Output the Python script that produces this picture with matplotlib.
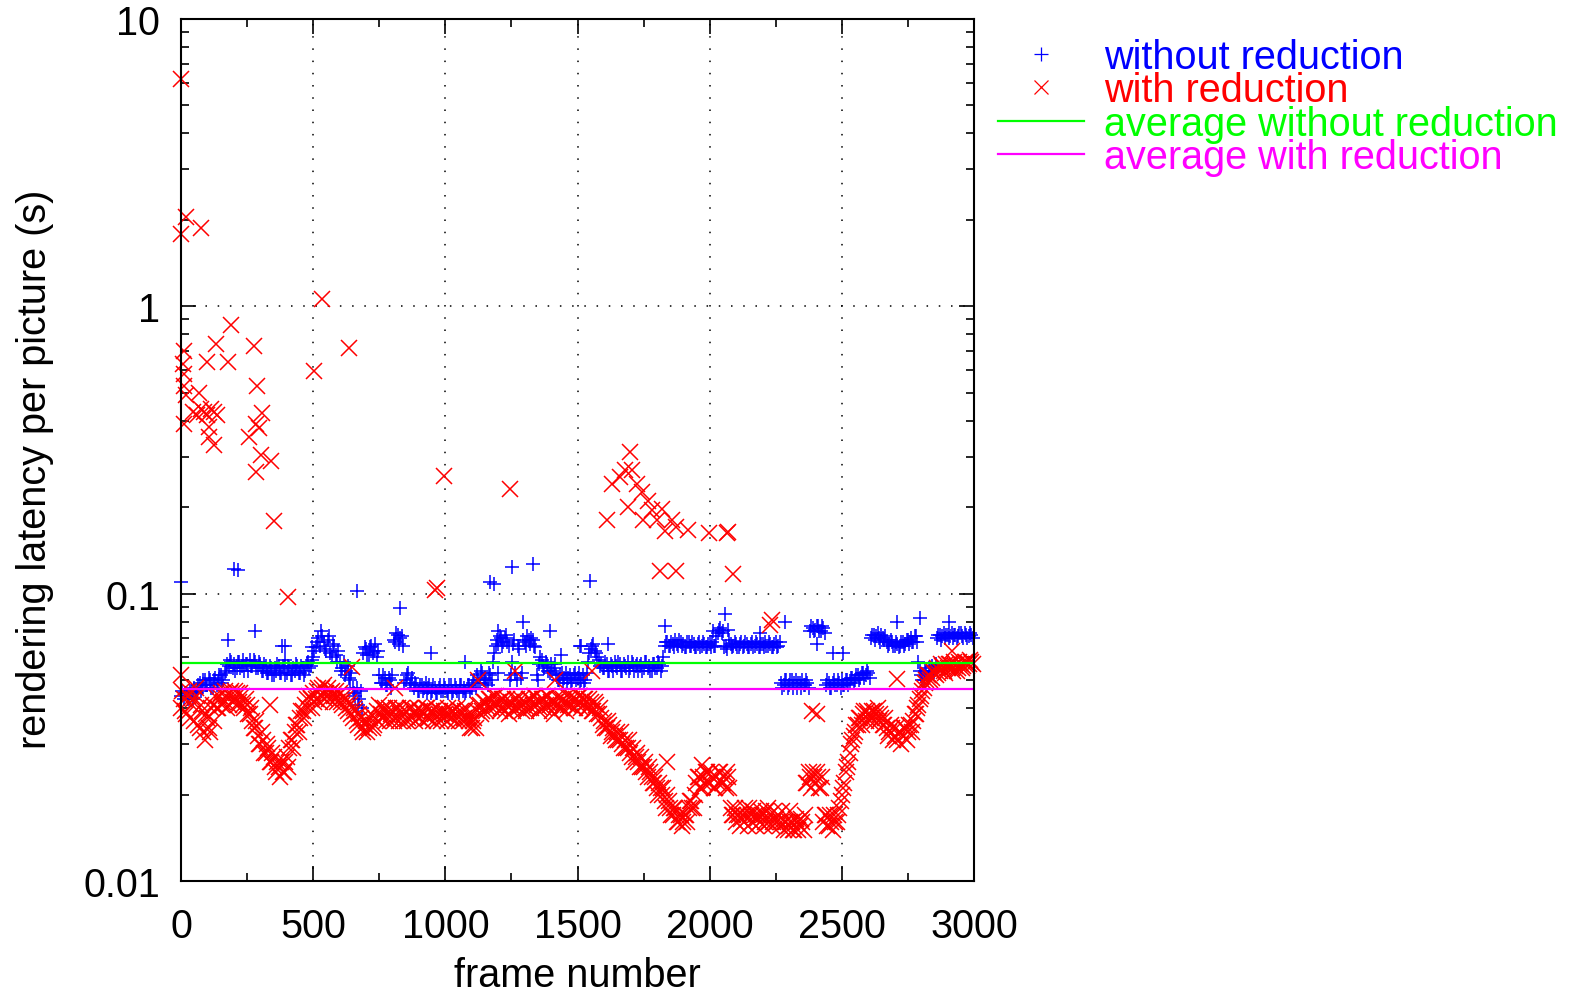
import numpy as np
import matplotlib
matplotlib.use('Agg')
import matplotlib.pyplot as plt
from matplotlib import ticker

plt.rcParams['font.family'] = ['Liberation Sans', 'DejaVu Sans']
plt.rcParams['font.size'] = 28.5

# frame numbers of the sampled points: two interleaved samplings, 10 frames apart each
frames_a = np.arange(0, 3000, 10)
frames_b = np.arange(5, 3000, 10)

# rendering latency per picture (s), one row = 100 frames
without_reduction_a = [
    0.044, 0.043, 0.045, 0.044, 0.046, 0.047, 0.045, 0.049, 0.047, 0.050,
    0.048, 0.050, 0.047, 0.051, 0.049, 0.052, 0.050, 0.054, 0.056, 0.058,
    0.057, 0.055, 0.058, 0.056, 0.054, 0.057, 0.059, 0.056, 0.058, 0.055,
    0.057, 0.054, 0.056, 0.053, 0.055, 0.052, 0.054, 0.056, 0.053, 0.055,
    0.053, 0.055, 0.052, 0.054, 0.056, 0.053, 0.055, 0.054, 0.058, 0.056,
    0.060, 0.065, 0.070, 0.074, 0.068, 0.063, 0.071, 0.060, 0.066, 0.058,
    0.058, 0.055, 0.052, 0.056, 0.050, 0.047, 0.044, 0.041, 0.046, 0.062,
    0.064, 0.061, 0.066, 0.063, 0.060, 0.052, 0.049, 0.051, 0.048, 0.050,
    0.052, 0.068, 0.072, 0.070, 0.066, 0.050, 0.053, 0.049, 0.047, 0.048,
    0.046, 0.048, 0.047, 0.045, 0.048, 0.046, 0.047, 0.045, 0.048, 0.046,
    0.047, 0.045, 0.048, 0.046, 0.047, 0.045, 0.048, 0.047, 0.046, 0.048,
    0.047, 0.050, 0.052, 0.049, 0.053, 0.051, 0.048, 0.052, 0.058, 0.066,
    0.067, 0.070, 0.068, 0.072, 0.066, 0.052, 0.069, 0.050, 0.064, 0.053,
    0.068, 0.071, 0.067, 0.069, 0.065, 0.050, 0.060, 0.056, 0.058, 0.054,
    0.057, 0.055, 0.052, 0.050, 0.053, 0.051, 0.049, 0.052, 0.050, 0.053,
    0.051, 0.049, 0.052, 0.050, 0.058, 0.064, 0.067, 0.062, 0.059, 0.057,
    0.055, 0.057, 0.054, 0.056, 0.058, 0.055, 0.057, 0.054, 0.056, 0.058,
    0.055, 0.057, 0.056, 0.054, 0.057, 0.055, 0.058, 0.056, 0.054, 0.057,
    0.055, 0.057, 0.056, 0.066, 0.068, 0.066, 0.067, 0.069, 0.066, 0.068,
    0.067, 0.065, 0.068, 0.066, 0.067, 0.065, 0.068, 0.066, 0.067, 0.065,
    0.067, 0.068, 0.066, 0.073, 0.076, 0.074, 0.066, 0.075, 0.067, 0.066,
    0.067, 0.065, 0.068, 0.066, 0.067, 0.065, 0.068, 0.066, 0.067, 0.065,
    0.067, 0.068, 0.066, 0.067, 0.065, 0.068, 0.066, 0.049, 0.048, 0.050,
    0.048, 0.050, 0.049, 0.047, 0.049, 0.050, 0.048, 0.049, 0.074, 0.076,
    0.075, 0.077, 0.074, 0.076, 0.048, 0.049, 0.047, 0.050, 0.048, 0.049,
    0.050, 0.048, 0.050, 0.049, 0.051, 0.050, 0.052, 0.051, 0.053, 0.052,
    0.053, 0.070, 0.072, 0.071, 0.070, 0.072, 0.069, 0.068, 0.067, 0.068,
    0.066, 0.067, 0.066, 0.068, 0.067, 0.069, 0.070, 0.068, 0.071, 0.058,
    0.052, 0.050, 0.053, 0.055, 0.056, 0.054, 0.070, 0.072, 0.071, 0.070,
    0.072, 0.071, 0.070, 0.072, 0.071, 0.073, 0.070, 0.072, 0.071, 0.072,
]

without_reduction_b = [
    0.046, 0.045, 0.043, 0.046, 0.043, 0.045, 0.048, 0.046, 0.050, 0.048,
    0.051, 0.047, 0.050, 0.048, 0.052, 0.049, 0.053, 0.057, 0.059, 0.055,
    0.054, 0.058, 0.055, 0.059, 0.057, 0.054, 0.056, 0.059, 0.055, 0.058,
    0.054, 0.057, 0.053, 0.056, 0.052, 0.055, 0.057, 0.053, 0.056, 0.052,
    0.056, 0.052, 0.055, 0.057, 0.053, 0.056, 0.052, 0.057, 0.055, 0.059,
    0.063, 0.068, 0.066, 0.071, 0.064, 0.069, 0.062, 0.067, 0.061, 0.063,
    0.054, 0.058, 0.054, 0.051, 0.053, 0.045, 0.047, 0.043, 0.040, 0.065,
    0.061, 0.065, 0.062, 0.067, 0.063, 0.049, 0.052, 0.048, 0.051, 0.047,
    0.069, 0.073, 0.067, 0.071, 0.049, 0.052, 0.048, 0.051, 0.049, 0.046,
    0.048, 0.046, 0.049, 0.047, 0.045, 0.048, 0.045, 0.047, 0.046, 0.048,
    0.046, 0.048, 0.045, 0.048, 0.046, 0.048, 0.046, 0.045, 0.048, 0.046,
    0.049, 0.047, 0.050, 0.054, 0.050, 0.049, 0.053, 0.050, 0.062, 0.069,
    0.071, 0.066, 0.070, 0.068, 0.050, 0.067, 0.053, 0.066, 0.051, 0.069,
    0.066, 0.069, 0.070, 0.066, 0.052, 0.057, 0.059, 0.055, 0.057, 0.053,
    0.054, 0.057, 0.050, 0.052, 0.049, 0.053, 0.051, 0.049, 0.052, 0.050,
    0.053, 0.050, 0.049, 0.053, 0.062, 0.066, 0.063, 0.060, 0.056, 0.055,
    0.058, 0.054, 0.057, 0.054, 0.056, 0.058, 0.054, 0.057, 0.055, 0.054,
    0.058, 0.054, 0.057, 0.056, 0.054, 0.058, 0.055, 0.054, 0.057, 0.055,
    0.058, 0.054, 0.060, 0.068, 0.066, 0.068, 0.065, 0.067, 0.069, 0.066,
    0.065, 0.068, 0.066, 0.068, 0.065, 0.067, 0.065, 0.068, 0.065, 0.067,
    0.065, 0.066, 0.071, 0.075, 0.073, 0.065, 0.064, 0.069, 0.065, 0.068,
    0.065, 0.067, 0.065, 0.068, 0.065, 0.067, 0.065, 0.068, 0.065, 0.067,
    0.065, 0.066, 0.068, 0.065, 0.067, 0.065, 0.068, 0.047, 0.050, 0.047,
    0.050, 0.047, 0.050, 0.049, 0.047, 0.048, 0.050, 0.047, 0.077, 0.074,
    0.077, 0.074, 0.077, 0.073, 0.050, 0.047, 0.049, 0.048, 0.050, 0.047,
    0.048, 0.050, 0.048, 0.051, 0.049, 0.052, 0.050, 0.053, 0.051, 0.054,
    0.051, 0.072, 0.069, 0.073, 0.068, 0.070, 0.071, 0.066, 0.069, 0.066,
    0.068, 0.065, 0.068, 0.066, 0.069, 0.067, 0.068, 0.071, 0.068, 0.054,
    0.050, 0.054, 0.051, 0.053, 0.054, 0.057, 0.072, 0.069, 0.073, 0.072,
    0.070, 0.073, 0.072, 0.070, 0.073, 0.071, 0.073, 0.070, 0.073, 0.070,
]

with_reduction_a = [
    0.040, 0.043, 0.038, 0.046, 0.041, 0.036, 0.044, 0.034, 0.039, 0.031,
    0.037, 0.033, 0.041, 0.044, 0.040, 0.045, 0.042, 0.044, 0.041, 0.046,
    0.043, 0.045, 0.042, 0.044, 0.040, 0.041, 0.038, 0.036, 0.034, 0.032,
    0.030, 0.031, 0.028, 0.029, 0.026, 0.027, 0.024, 0.025, 0.026, 0.024,
    0.027, 0.029, 0.031, 0.033, 0.035, 0.037, 0.039, 0.041, 0.040, 0.043,
    0.045, 0.043, 0.047, 0.044, 0.048, 0.045, 0.043, 0.046, 0.044, 0.042,
    0.045, 0.041, 0.043, 0.039, 0.041, 0.037, 0.039, 0.035, 0.037, 0.033,
    0.036, 0.034, 0.038, 0.035, 0.039, 0.041, 0.037, 0.040, 0.038, 0.036,
    0.039, 0.037, 0.040, 0.038, 0.036, 0.039, 0.037, 0.040, 0.038, 0.039,
    0.037, 0.039, 0.038, 0.040, 0.037, 0.039, 0.038, 0.036, 0.039, 0.037,
    0.038, 0.040, 0.037, 0.039, 0.038, 0.036, 0.039, 0.037, 0.040, 0.036,
    0.034, 0.037, 0.039, 0.041, 0.039, 0.042, 0.040, 0.043, 0.041, 0.044,
    0.042, 0.040, 0.043, 0.041, 0.038, 0.042, 0.040, 0.043, 0.041, 0.039,
    0.042, 0.040, 0.043, 0.041, 0.044, 0.042, 0.040, 0.043, 0.041, 0.044,
    0.042, 0.038, 0.041, 0.043, 0.040, 0.042, 0.044, 0.041, 0.043, 0.040,
    0.042, 0.044, 0.041, 0.043, 0.040, 0.042, 0.039, 0.041, 0.038, 0.037,
    0.036, 0.034, 0.035, 0.033, 0.032, 0.033, 0.031, 0.030, 0.031, 0.029,
    0.028, 0.029, 0.027, 0.026, 0.027, 0.025, 0.024, 0.025, 0.023, 0.022,
    0.021, 0.022, 0.020, 0.019, 0.020, 0.018, 0.017, 0.018, 0.016, 0.017,
    0.016, 0.017, 0.018, 0.019, 0.018, 0.022, 0.023, 0.021, 0.022, 0.024,
    0.022, 0.023, 0.021, 0.022, 0.024, 0.022, 0.021, 0.023, 0.018, 0.017,
    0.016, 0.017, 0.0165, 0.016, 0.017, 0.018, 0.016, 0.017, 0.0165, 0.016,
    0.017, 0.016, 0.018, 0.017, 0.016, 0.0165, 0.017, 0.016, 0.015, 0.016,
    0.0155, 0.016, 0.015, 0.016, 0.0155, 0.016, 0.017, 0.022, 0.023, 0.024,
    0.022, 0.023, 0.021, 0.016, 0.017, 0.0155, 0.016, 0.017, 0.016, 0.018,
    0.020, 0.022, 0.025, 0.028, 0.031, 0.033, 0.035, 0.037, 0.038, 0.036,
    0.038, 0.037, 0.039, 0.038, 0.036, 0.037, 0.035, 0.034, 0.033, 0.034,
    0.032, 0.031, 0.033, 0.032, 0.034, 0.033, 0.035, 0.036, 0.038, 0.041,
    0.044, 0.047, 0.050, 0.052, 0.051, 0.053, 0.055, 0.054, 0.056, 0.053,
    0.055, 0.057, 0.054, 0.056, 0.055, 0.057, 0.056, 0.058, 0.057, 0.058,
]

with_reduction_b = [
    0.046, 0.039, 0.044, 0.037, 0.043, 0.047, 0.035, 0.041, 0.033, 0.038,
    0.034, 0.040, 0.036, 0.040, 0.044, 0.041, 0.046, 0.040, 0.045, 0.042,
    0.046, 0.041, 0.045, 0.041, 0.043, 0.038, 0.040, 0.034, 0.036, 0.030,
    0.033, 0.028, 0.030, 0.026, 0.028, 0.025, 0.026, 0.023, 0.024, 0.026,
    0.025, 0.031, 0.029, 0.035, 0.033, 0.039, 0.037, 0.043, 0.044, 0.040,
    0.042, 0.046, 0.042, 0.047, 0.043, 0.047, 0.045, 0.042, 0.046, 0.044,
    0.042, 0.044, 0.040, 0.042, 0.038, 0.040, 0.036, 0.038, 0.034, 0.035,
    0.033, 0.037, 0.034, 0.037, 0.036, 0.038, 0.040, 0.036, 0.040, 0.038,
    0.036, 0.040, 0.036, 0.040, 0.038, 0.036, 0.040, 0.037, 0.036, 0.040,
    0.039, 0.036, 0.040, 0.037, 0.039, 0.036, 0.040, 0.038, 0.036, 0.039,
    0.036, 0.038, 0.039, 0.036, 0.040, 0.038, 0.036, 0.039, 0.037, 0.034,
    0.036, 0.034, 0.041, 0.038, 0.042, 0.039, 0.043, 0.040, 0.044, 0.041,
    0.039, 0.043, 0.039, 0.043, 0.041, 0.039, 0.043, 0.040, 0.043, 0.041,
    0.039, 0.043, 0.040, 0.044, 0.041, 0.039, 0.043, 0.040, 0.044, 0.041,
    0.039, 0.042, 0.044, 0.040, 0.043, 0.039, 0.041, 0.044, 0.040, 0.043,
    0.044, 0.040, 0.043, 0.040, 0.043, 0.039, 0.042, 0.038, 0.040, 0.035,
    0.034, 0.036, 0.032, 0.034, 0.031, 0.031, 0.033, 0.029, 0.029, 0.031,
    0.027, 0.026, 0.028, 0.025, 0.025, 0.026, 0.023, 0.024, 0.022, 0.023,
    0.020, 0.021, 0.021, 0.018, 0.019, 0.017, 0.018, 0.016, 0.017, 0.0155,
    0.017, 0.016, 0.019, 0.018, 0.020, 0.023, 0.021, 0.023, 0.024, 0.022,
    0.024, 0.021, 0.023, 0.024, 0.022, 0.023, 0.024, 0.021, 0.017, 0.018,
    0.017, 0.0155, 0.017, 0.018, 0.0155, 0.017, 0.0175, 0.0155, 0.017, 0.0175,
    0.0155, 0.0175, 0.016, 0.0155, 0.0175, 0.016, 0.0155, 0.0175, 0.016, 0.015,
    0.016, 0.015, 0.0165, 0.015, 0.0165, 0.015, 0.022, 0.024, 0.021, 0.023,
    0.024, 0.021, 0.023, 0.017, 0.0155, 0.017, 0.015, 0.016, 0.017, 0.019,
    0.021, 0.024, 0.026, 0.030, 0.032, 0.035, 0.037, 0.035, 0.039, 0.039,
    0.036, 0.039, 0.036, 0.040, 0.038, 0.035, 0.037, 0.032, 0.035, 0.031,
    0.034, 0.033, 0.030, 0.034, 0.031, 0.035, 0.033, 0.038, 0.040, 0.043,
    0.046, 0.049, 0.052, 0.050, 0.054, 0.052, 0.053, 0.057, 0.054, 0.057,
    0.057, 0.055, 0.058, 0.054, 0.058, 0.055, 0.058, 0.056, 0.059, 0.057,
]

# isolated points away from the main band
without_extra_frames = [0, 178, 200, 215, 280, 382, 393, 393, 495, 666, 828, 945, 1073,
                        1170, 1184, 1199, 1199, 1251, 1251, 1293, 1331, 1396, 1438, 1509,
                        1513, 1547, 1616, 1831, 2014, 2058, 2191, 2285, 2406, 2467, 2505,
                        2709, 2796, 2905]
without_extra_vals = [0.110, 0.069, 0.122, 0.121, 0.074, 0.066, 0.066, 0.059, 0.065, 0.102,
                      0.089, 0.062, 0.058, 0.110, 0.108, 0.074, 0.053, 0.124, 0.058, 0.080,
                      0.127, 0.074, 0.061, 0.066, 0.066, 0.111, 0.067, 0.077, 0.074, 0.085,
                      0.073, 0.080, 0.067, 0.062, 0.062, 0.080, 0.082, 0.080]

with_extra_frames = [0, 19, 0, 75, 534, 188, 132, 12, 276, 634, 100, 176, 6, 12, 12, 19, 69,
                     289, 505, 44, 60, 75, 88, 100, 113, 126, 138, 12, 107, 107, 126, 258,
                     283, 308, 295, 301, 339, 283, 352, 404, 961, 970, 996, 1245,
                     1611, 1630, 1660, 1679, 1690, 1698, 1705, 1725, 1744, 1748, 1767,
                     1782, 1800, 1812, 1820, 1831, 1857, 1872, 1872, 1918, 1997, 2065,
                     2070, 2088, 2228, 2236, 2387, 2709, 2917,
                     0, 647, 1263, 1414, 1124, 810, 336, 2405, 1838, 1971, 2304, 1555]
with_extra_vals = [6.2, 2.05, 1.79, 1.87, 1.06, 0.86, 0.74, 0.70, 0.73, 0.715, 0.64, 0.64,
                   0.63, 0.58, 0.53, 0.49, 0.50, 0.53, 0.595, 0.43, 0.42, 0.44, 0.43, 0.42,
                   0.44, 0.43, 0.42, 0.39, 0.38, 0.35, 0.33, 0.35, 0.39, 0.425, 0.377,
                   0.304, 0.29, 0.265, 0.179, 0.097, 0.103, 0.105, 0.257, 0.232,
                   0.18, 0.24, 0.255, 0.27, 0.20, 0.31, 0.27, 0.24, 0.225, 0.18, 0.21,
                   0.195, 0.18, 0.12, 0.197, 0.165, 0.18, 0.17, 0.12, 0.167, 0.162, 0.162,
                   0.164, 0.117, 0.078, 0.081, 0.039, 0.0506, 0.063,
                   0.0523, 0.0557, 0.054, 0.050, 0.050, 0.047, 0.041, 0.038, 0.026,
                   0.0253, 0.0175, 0.054]

avg_without = 0.0575
avg_with = 0.0464

fig = plt.figure(figsize=(15.76, 9.95), dpi=100)
ax = fig.add_axes([181 / 1576, 1 - 882 / 995, 793 / 1576, 862 / 995])

ax.plot(np.r_[frames_a, frames_b, without_extra_frames],
        np.r_[without_reduction_a, without_reduction_b, without_extra_vals],
        ls='none', marker='+', ms=10.5, mew=1.1, color='#0000ff', clip_on=False,
        label='without reduction')
ax.plot(np.r_[frames_a, frames_b, with_extra_frames],
        np.r_[with_reduction_a, with_reduction_b, with_extra_vals],
        ls='none', marker='x', ms=11, mew=1.1, color='#ff0000', clip_on=False,
        label='with reduction')
ax.plot([0, 3000], [avg_without, avg_without], color='#00ff00', lw=1.6,
        label='average without reduction')
ax.plot([0, 3000], [avg_with, avg_with], color='#ff00ff', lw=1.6,
        label='average with reduction')

ax.set_yscale('log')
ax.set_xlim(0, 3000)
ax.set_ylim(0.01, 10)
ax.xaxis.set_major_locator(ticker.MultipleLocator(500))
ax.xaxis.set_minor_locator(ticker.MultipleLocator(250))
ax.yaxis.set_major_formatter(ticker.FuncFormatter(lambda v, _: f'{v:g}'))
ax.yaxis.set_minor_formatter(ticker.NullFormatter())
ax.tick_params(which='both', direction='in', top=True, right=True, width=1.2)
ax.tick_params(which='major', length=11)
ax.tick_params(which='minor', length=6)
ax.tick_params(axis='x', pad=19)
ax.tick_params(axis='y', pad=15)
for s in ax.spines.values():
    s.set_linewidth(1.5)
ax.grid(True, which='major', color='black', lw=1.1, ls=(0, (1, 7)))

ax.set_xlabel('frame number', va='center')
ax.xaxis.set_label_coords(0.5, (882 - 976) / 862)
ax.set_ylabel('rendering latency per picture (s)', va='center')
ax.yaxis.set_label_coords((35 - 181) / 793, (882 - 469) / 862)

leg = fig.legend(loc='upper left', bbox_to_anchor=(998 / 1576, 1 - 39 / 995), frameon=False,
                 borderpad=0, borderaxespad=0, labelspacing=-0.12, handlelength=2.18,
                 handletextpad=0.5, numpoints=1, labelcolor='linecolor')
for h in leg.legend_handles[:2]:
    h.set_markersize(9.5)
    h.set_markeredgewidth(0.9)

fig.savefig('out.png', dpi=100)
